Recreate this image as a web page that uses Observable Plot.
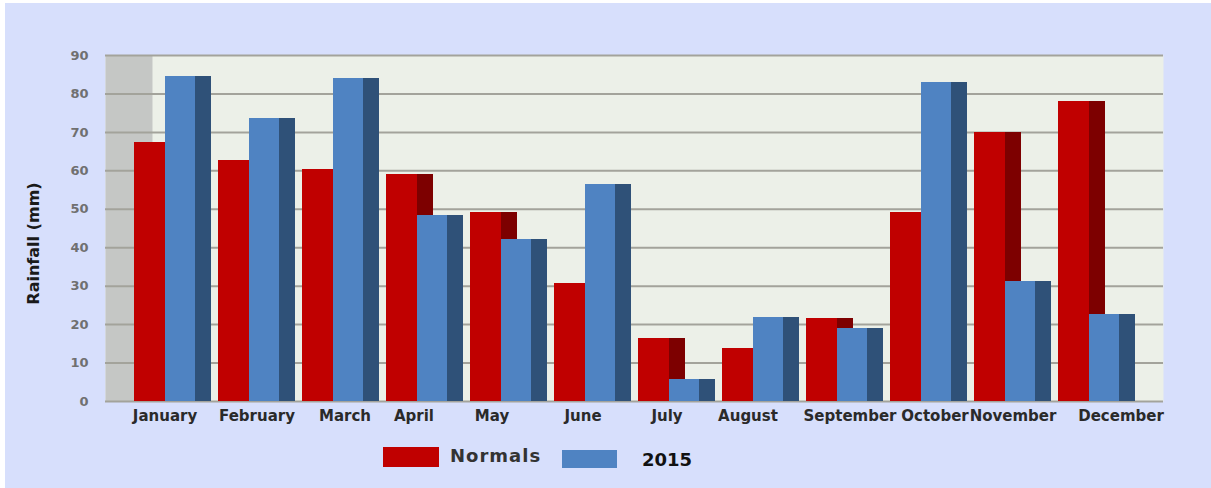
<!DOCTYPE html>
<html>
<head>
<meta charset="utf-8">
<script src="https://cdn.jsdelivr.net/npm/d3@7"></script>
<script src="https://cdn.jsdelivr.net/npm/@observablehq/plot@0.6"></script>
<style>
  html, body { margin: 0; padding: 0; background: #ffffff; }
  #wrap { position: absolute; left: 5px; top: 3px; width: 1206px; height: 485px; background: #d7dffc; overflow: hidden; font-family: "DejaVu Sans", sans-serif; }
  #chart svg { display: block; }
  .sw { position: absolute; }
  .lt { position: absolute; font-family: "DejaVu Sans", sans-serif; font-weight: bold; font-size: 18px; line-height: 20px; white-space: nowrap; }
</style>
</head>
<body>
<div id="wrap">
  <div id="chart"></div>
  <div id="legend"></div>
</div>
<script>
const months = ["January","February","March","April","May","June","July","August","September","October","November","December"];
const normals = [67.3, 62.7, 60.3, 59.0, 49.1, 30.8, 16.5, 13.7, 21.5, 49.2, 70.1, 78.1];
const rain2015 = [84.6, 73.7, 84.1, 48.4, 42.1, 56.5, 5.6, 21.9, 19.1, 82.9, 31.2, 22.6];
const yTicks = [0, 10, 20, 30, 40, 50, 60, 70, 80, 90];
const seriesNames = ["Normals", "2015"];
const yLabel = "Rainfall (mm)";

const colors = {
  redFront: "#c00000", redSide: "#7d0000",
  blueFront: "#4f83c2", blueSide: "#2f5178"
};

const dataN = months.map((m, i) => ({month: m, value: normals[i]}));
const data15 = months.map((m, i) => ({month: m, value: rain2015[i]}));

const W = 1206, H = 430;
const mL = 100, mR = 48, mT = 52, mB = 32;
const bw = 1058 / (12 - 0.087 + 0.64) * 0.913; // bandwidth approx

// month labels in the original are not exactly centred under their groups (3D front plane); small pixel nudges
const labelNudge = [-8, 0, 4, -11, -17, -10, -10, -13, 5, 6, 0, 24];
const labelMarks = months.map((m, i) =>
  Plot.text([m], {x: d => d, frameAnchor: "bottom", text: d => d, dx: labelNudge[i], dy: 19,
    fontSize: 15, fontWeight: "bold", fill: "#2a2a2a", style: {letterSpacing: "0.5px"}})
);
const crisp = {shapeRendering: "crispEdges"};

const plot = Plot.plot({
  width: W, height: H,
  marginLeft: mL, marginRight: mR, marginTop: mT, marginBottom: mB,
  style: {background: "#d7dffc", fontFamily: "DejaVu Sans, sans-serif", overflow: "visible"},
  x: {type: "band", domain: months, paddingInner: 0.087, paddingOuter: 0.32, label: null, axis: null},
  y: {domain: [0, 90], label: null},
  marks: [
    Plot.frame({fill: "#ecf0e8", stroke: "none"}),
    Plot.frame({fill: "#c5c7c5", stroke: "none", insetRight: 1058 - 47}),
    Plot.ruleY(yTicks, {stroke: "#a3a39b", strokeWidth: 2}),
    // Normals: front face and side face
    Plot.barY(dataN, {x: "month", y: "value", fill: colors.redFront, insetLeft: 0, insetRight: bw - 32, ...crisp}),
    Plot.barY(dataN, {x: "month", y: "value", fill: colors.redSide, insetLeft: 31, insetRight: bw - 47, ...crisp}),
    // 2015: front face and side face
    Plot.barY(data15, {x: "month", y: "value", fill: colors.blueFront, insetLeft: 31, insetRight: bw - 62, ...crisp}),
    Plot.barY(data15, {x: "month", y: "value", fill: colors.blueSide, insetLeft: 61, insetRight: 0, ...crisp}),
    Plot.axisY({ticks: yTicks, tickSize: 0, tickPadding: 17, fontSize: 13, fontWeight: "bold", fill: "#707070", label: null}),
    ...labelMarks,
    Plot.text([yLabel], {frameAnchor: "left", textAnchor: "middle", text: d => d, rotate: -90, dx: -72, dy: 15, fontSize: 16, fontWeight: "bold", fill: "#1a1a1a"})
  ]
});
document.getElementById("chart").appendChild(plot);

// Legend (HTML, below the chart)
const legend = document.getElementById("legend");
const items = [
  {name: seriesNames[0], color: colors.redFront, sw: {left: 378, top: 444, w: 56, h: 20}, tx: {left: 445, top: 443, color: "#333333", ls: "1px"}},
  {name: seriesNames[1], color: colors.blueFront, sw: {left: 557, top: 447, w: 55, h: 18}, tx: {left: 637, top: 447, color: "#111111", ls: "0px"}}
];
for (const it of items) {
  const s = document.createElement("div");
  s.className = "sw";
  Object.assign(s.style, {left: it.sw.left + "px", top: it.sw.top + "px", width: it.sw.w + "px", height: it.sw.h + "px", background: it.color});
  legend.appendChild(s);
  const t = document.createElement("div");
  t.className = "lt";
  Object.assign(t.style, {left: it.tx.left + "px", top: it.tx.top + "px", color: it.tx.color, letterSpacing: it.tx.ls});
  t.textContent = it.name;
  legend.appendChild(t);
}
</script>
</body>
</html>
